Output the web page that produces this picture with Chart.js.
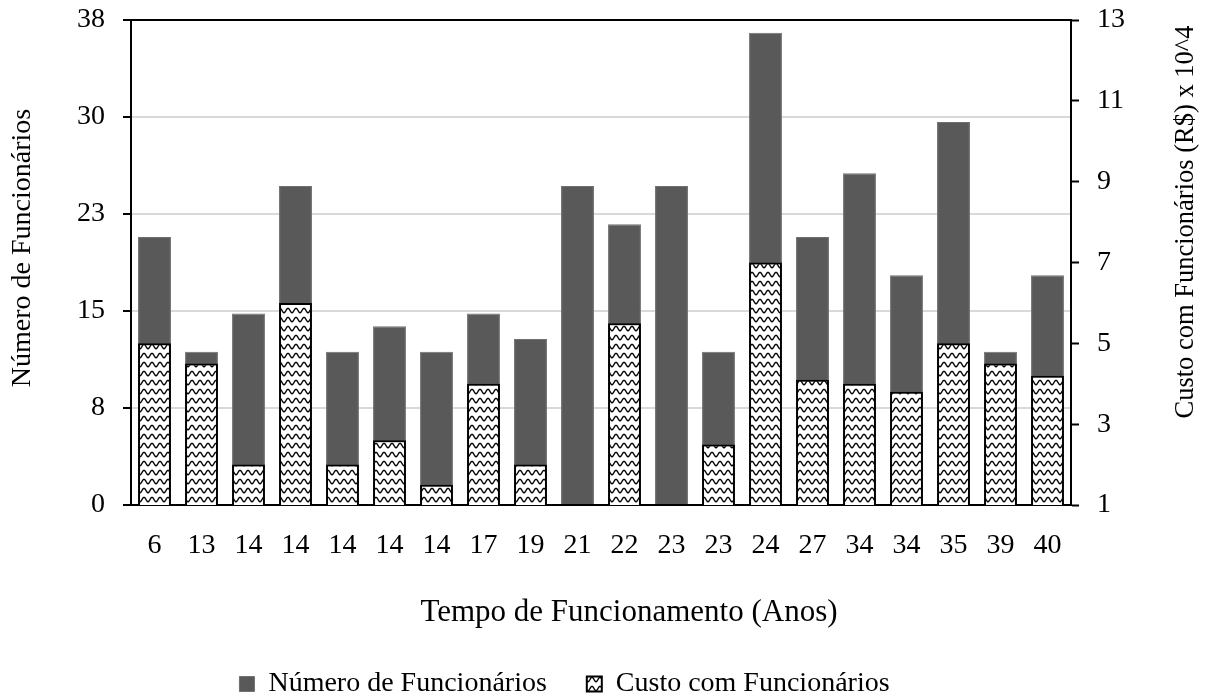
<!DOCTYPE html>
<html>
<head>
<meta charset="utf-8">
<script src="https://cdn.jsdelivr.net/npm/chart.js@4/dist/chart.umd.min.js"></script>
<style>
html,body{margin:0;padding:0;background:#fff;}
#wrap{width:1211px;height:698px;position:relative;}
</style>
</head>
<body>
<div id="wrap"><canvas id="c" width="1211" height="698"></canvas></div>
<script>
const categories = ['6','13','14','14','14','14','14','17','19','21','22','23','23','24','27','34','34','35','39','40'];
const numeroFuncionarios = [21,12,15,25,12,14,12,15,13,25,22,25,12,37,21,26,18,30,12,18];
const custoFuncionarios = [5.0,4.5,2.0,6.0,2.0,2.6,1.5,4.0,2.0,1,5.5,1,2.5,7.0,4.1,4.0,3.8,5.0,4.5,4.2];
const leftTicks = [0,7.6,15.2,22.8,30.4,38];
const rightTicks = [1,3,5,7,9,11,13];
const leftTitle = 'Número de Funcionários';
const rightTitle = 'Custo com Funcionários (R$) x 10^4';
const xTitle = 'Tempo de Funcionamento (Anos)';

function makePattern(){
  const t = document.createElement('canvas');
  t.width = 8; t.height = 9;
  const g = t.getContext('2d');
  g.fillStyle = '#fff';
  g.fillRect(0,0,8,9);
  g.strokeStyle = '#000';
  g.lineWidth = 1.4;
  g.beginPath();
  for(let x=0;x<=8;x+=0.5){
    const y = 4.5 - 2.2*Math.cos(2*Math.PI*x/8);
    if(x===0) g.moveTo(x,y); else g.lineTo(x,y);
  }
  g.stroke();
  return g.createPattern(t,'repeat');
}
const ctx = document.getElementById('c').getContext('2d');
const pattern = makePattern();
const FONT = 'Liberation Serif';

function drawText(c, text, x, y, size, rot){
  c.save();
  c.translate(x, y);
  if(rot) c.rotate(rot);
  c.fillStyle = '#000';
  c.font = size + 'px "' + FONT + '"';
  c.textAlign = 'center';
  c.textBaseline = 'middle';
  c.fillText(text, 0, 0);
  c.restore();
}

const extras = {
  id:'extras',
  afterLayout(chart){
    if(chart.legend){ chart.legend.right -= 82; }
  },
  afterDraw(chart){
    const a = chart.chartArea, c = chart.ctx;
    c.save();
    c.strokeStyle = '#000'; c.lineWidth = 2;
    c.beginPath(); c.moveTo(a.left-1, a.top); c.lineTo(a.right+1, a.top); c.stroke();
    c.restore();
    drawText(c, leftTitle, 23, 248, 28, -Math.PI/2);
    drawText(c, rightTitle, chart.scales.y1.right - 25, 222, 26.5, -Math.PI/2);
    drawText(c, xTitle, 629, chart.scales.x.bottom - 17, 31, 0);
  }
};

function noPad(s){ s.paddingTop = 0; s.paddingBottom = 0; }

new Chart(ctx,{
  type:'bar',
  data:{
    labels:categories,
    datasets:[
      {label:'Número de Funcionários', data:numeroFuncionarios, yAxisID:'y',
       backgroundColor:'#595959', borderColor:'#707070', borderWidth:1, order:2,
       grouped:false, categoryPercentage:1, barPercentage:0.7},
      {label:'Custo com Funcionários', data:custoFuncionarios, yAxisID:'y1',
       backgroundColor:pattern, borderColor:'#000', borderWidth:2, order:1,
       grouped:false, categoryPercentage:1, barPercentage:0.7}
    ]
  },
  plugins:[extras],
  options:{
    responsive:false,
    animation:false,
    layout:{padding:{top:20,left:0,right:0,bottom:-10}},
    plugins:{
      tooltip:{enabled:false},
      legend:{
        position:'bottom',
        labels:{
          font:{family:FONT,size:28}, color:'#000',
          boxWidth:15, boxHeight:15, padding:40,
          sort:(a,b)=>a.datasetIndex-b.datasetIndex
        }
      }
    },
    scales:{
      x:{
        grid:{display:false},
        border:{display:true,color:'#000',width:2},
        ticks:{font:{family:FONT,size:28},color:'#000',padding:16,maxRotation:0,autoSkip:false},
        title:{display:false},
        afterFit(s){ s.height = 125; }
      },
      y:{
        position:'left', min:0, max:38,
        afterBuildTicks(s){ s.ticks = leftTicks.map(v=>({value:v})); },
        grid:{color:'#d9d9d9',lineWidth:2,tickColor:'#000',tickLength:8,tickWidth:2,drawTicks:true},
        border:{display:true,color:'#000',width:2},
        ticks:{font:{family:FONT,size:28},color:'#000',padding:18,callback:v=>Math.round(v)},
        title:{display:false},
        afterFit(s){ s.width = 131; noPad(s); }
      },
      y1:{
        position:'right', min:1, max:13,
        afterBuildTicks(s){ s.ticks = rightTicks.map(v=>({value:v})); },
        grid:{drawOnChartArea:false,tickColor:'#000',tickLength:8,tickWidth:2},
        border:{display:true,color:'#000',width:2},
        ticks:{font:{family:FONT,size:28},color:'#000',padding:18},
        title:{display:false},
        afterFit(s){ s.width = 140; noPad(s); }
      }
    }
  }
});
</script>
</body>
</html>
